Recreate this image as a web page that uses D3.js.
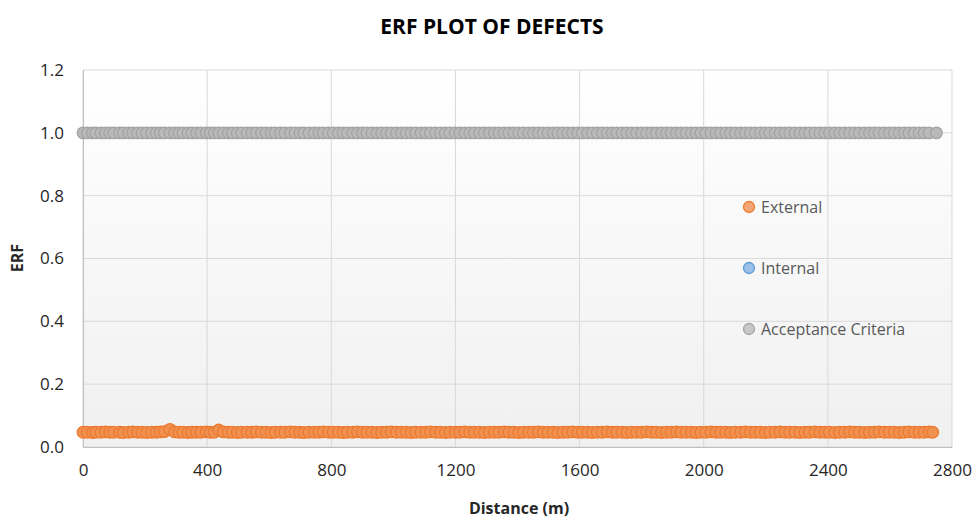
<!DOCTYPE html>
<html>
<head>
<meta charset="utf-8">
<script src="https://cdn.jsdelivr.net/npm/d3@7"></script>
<style>
    body { margin: 0; background: #ffffff; }
</style>
</head>
<body>
<div id="erf_chart"></div>
<script>
// distance of each defect (m)
var distances = [
    0, 14, 30, 41, 58, 72, 86, 99, 118, 130,
    147, 160, 176, 190, 205, 221, 236, 249, 262, 280,
    295, 309, 322, 338, 351, 366, 380, 397, 410, 423,
    437, 452, 468, 481, 497, 511, 529, 544, 558, 575,
    590, 606, 619, 636, 650, 668, 683, 699, 712, 728,
    745, 760, 774, 791, 806, 823, 838, 852, 869, 884,
    900, 915, 931, 947, 962, 978, 993, 1010, 1026, 1041,
    1057, 1072, 1089, 1104, 1119, 1136, 1151, 1167, 1182, 1199,
    1214, 1230, 1246, 1261, 1278, 1293, 1309, 1325, 1340, 1357,
    1372, 1388, 1404, 1419, 1436, 1451, 1467, 1483, 1498, 1515,
    1530, 1546, 1562, 1578, 1594, 1609, 1626, 1641, 1657, 1673,
    1689, 1705, 1720, 1737, 1752, 1768, 1784, 1800, 1816, 1832,
    1847, 1864, 1880, 1895, 1912, 1927, 1943, 1960, 1975, 1991,
    2007, 2023, 2039, 2054, 2071, 2086, 2102, 2119, 2134, 2150,
    2166, 2182, 2198, 2213, 2230, 2246, 2262, 2277, 2294, 2310,
    2326, 2341, 2358, 2374, 2390, 2405, 2422, 2438, 2454, 2470,
    2486, 2501, 2518, 2534, 2550, 2565, 2582, 2598, 2614, 2630,
    2646, 2661, 2678, 2694, 2710, 2726, 2738
];

// ERF of external defects (one per distance)
var externalErf = [
    0.047, 0.047, 0.046, 0.047, 0.047, 0.048, 0.047, 0.047, 0.047, 0.046,
    0.047, 0.048, 0.047, 0.047, 0.046, 0.047, 0.047, 0.048, 0.049, 0.056,
    0.048, 0.047, 0.047, 0.046, 0.047, 0.047, 0.047, 0.048, 0.047, 0.047,
    0.054, 0.048, 0.047, 0.047, 0.046, 0.047, 0.047, 0.047, 0.048, 0.047,
    0.047, 0.046, 0.047, 0.047, 0.047, 0.048, 0.047, 0.047, 0.046, 0.047,
    0.047, 0.047, 0.048, 0.047, 0.047, 0.047, 0.046, 0.047, 0.047, 0.048,
    0.047, 0.047, 0.047, 0.046, 0.047, 0.047, 0.048, 0.047, 0.047, 0.047,
    0.046, 0.047, 0.047, 0.047, 0.048, 0.047, 0.047, 0.046, 0.047, 0.047,
    0.047, 0.048, 0.047, 0.047, 0.047, 0.046, 0.047, 0.047, 0.047, 0.048,
    0.047, 0.047, 0.046, 0.047, 0.047, 0.047, 0.048, 0.047, 0.047, 0.047,
    0.046, 0.047, 0.047, 0.048, 0.047, 0.047, 0.047, 0.046, 0.047, 0.047,
    0.048, 0.047, 0.047, 0.047, 0.046, 0.047, 0.047, 0.047, 0.048, 0.047,
    0.047, 0.046, 0.047, 0.047, 0.048, 0.047, 0.047, 0.047, 0.046, 0.047,
    0.047, 0.048, 0.047, 0.047, 0.047, 0.046, 0.047, 0.047, 0.048, 0.047,
    0.047, 0.047, 0.046, 0.047, 0.047, 0.048, 0.047, 0.047, 0.047, 0.046,
    0.047, 0.047, 0.048, 0.047, 0.047, 0.047, 0.046, 0.047, 0.047, 0.048,
    0.047, 0.047, 0.046, 0.047, 0.047, 0.048, 0.047, 0.047, 0.047, 0.046,
    0.047, 0.048, 0.047, 0.047, 0.047, 0.048, 0.047
];

// internal defects: none in this run
var internalDist = [];
var internalErf = [];

// acceptance criteria (one per distance)
var acceptanceErf = [
    1.0, 1.0, 1.0, 1.0, 1.0, 1.0, 1.0, 1.0, 1.0, 1.0,
    1.0, 1.0, 1.0, 1.0, 1.0, 1.0, 1.0, 1.0, 1.0, 1.0,
    1.0, 1.0, 1.0, 1.0, 1.0, 1.0, 1.0, 1.0, 1.0, 1.0,
    1.0, 1.0, 1.0, 1.0, 1.0, 1.0, 1.0, 1.0, 1.0, 1.0,
    1.0, 1.0, 1.0, 1.0, 1.0, 1.0, 1.0, 1.0, 1.0, 1.0,
    1.0, 1.0, 1.0, 1.0, 1.0, 1.0, 1.0, 1.0, 1.0, 1.0,
    1.0, 1.0, 1.0, 1.0, 1.0, 1.0, 1.0, 1.0, 1.0, 1.0,
    1.0, 1.0, 1.0, 1.0, 1.0, 1.0, 1.0, 1.0, 1.0, 1.0,
    1.0, 1.0, 1.0, 1.0, 1.0, 1.0, 1.0, 1.0, 1.0, 1.0,
    1.0, 1.0, 1.0, 1.0, 1.0, 1.0, 1.0, 1.0, 1.0, 1.0,
    1.0, 1.0, 1.0, 1.0, 1.0, 1.0, 1.0, 1.0, 1.0, 1.0,
    1.0, 1.0, 1.0, 1.0, 1.0, 1.0, 1.0, 1.0, 1.0, 1.0,
    1.0, 1.0, 1.0, 1.0, 1.0, 1.0, 1.0, 1.0, 1.0, 1.0,
    1.0, 1.0, 1.0, 1.0, 1.0, 1.0, 1.0, 1.0, 1.0, 1.0,
    1.0, 1.0, 1.0, 1.0, 1.0, 1.0, 1.0, 1.0, 1.0, 1.0,
    1.0, 1.0, 1.0, 1.0, 1.0, 1.0, 1.0, 1.0, 1.0, 1.0,
    1.0, 1.0, 1.0, 1.0, 1.0, 1.0, 1.0, 1.0, 1.0, 1.0,
    1.0, 1.0, 1.0, 1.0, 1.0, 1.0, 1.0
];
// acceptance line runs a little further than the last defect
var acceptanceDist = distances.slice(0, distances.length - 1).concat([2750]);

var xTicks = [0, 400, 800, 1200, 1600, 2000, 2400, 2800];
var yTicks = [0.0, 0.2, 0.4, 0.6, 0.8, 1.0, 1.2];

var seriesNames = ["External", "Internal", "Acceptance Criteria"];
var seriesFill = ["#f09152", "#8fb8e3", "#b9b9b9"];
var legendFill = ["#f4a676", "#9cc0e8", "#c8c8c8"];
var seriesStroke = ["#ec7a2e", "#5b9bd5", "#a3a3a3"];

function draw_erf_chart() {

    var w = 977;
    var h = 519;
    var font = "'Open Sans', sans-serif";

    // plot area edges
    var pLeft = 83, pRight = 952, pTop = 70, pBottom = 447;

    var xScale = d3.scaleLinear().domain([0, 2800]).range([pLeft, pRight]);
    var yScale = d3.scaleLinear().domain([0, 1.2]).range([pBottom, pTop]);

    var svg = d3.select("#erf_chart").append("svg")
        .attr("width", w)
        .attr("height", h)
        .style("font-family", font);

    // plot area background, white fading to light grey
    var grad = svg.append("defs").append("linearGradient")
        .attr("id", "plotBg")
        .attr("x1", 0).attr("y1", 0).attr("x2", 0).attr("y2", 1);
    grad.append("stop").attr("offset", "0%").attr("stop-color", "#ffffff");
    grad.append("stop").attr("offset", "100%").attr("stop-color", "#f0f0f0");

    svg.append("rect")
        .attr("x", pLeft)
        .attr("y", pTop)
        .attr("width", pRight - pLeft)
        .attr("height", pBottom - pTop)
        .attr("fill", "url(#plotBg)");

    // gridlines
    svg.append("g").selectAll("line")
        .data(yTicks)
        .enter()
        .append("line")
        .attr("x1", pLeft).attr("x2", pRight)
        .attr("y1", function(d) { return yScale(d); })
        .attr("y2", function(d) { return yScale(d); })
        .attr("stroke", "#d9d9d9")
        .attr("stroke-width", 1);

    svg.append("g").selectAll("line")
        .data(xTicks)
        .enter()
        .append("line")
        .attr("x1", function(d) { return xScale(d); })
        .attr("x2", function(d) { return xScale(d); })
        .attr("y1", pTop).attr("y2", pBottom)
        .attr("stroke", "#d9d9d9")
        .attr("stroke-width", 1);

    // axes
    var xAxis = d3.axisBottom(xScale).tickValues(xTicks).tickSize(0).tickPadding(17)
        .tickFormat(d3.format("d"));
    var gx = svg.append("g")
        .attr("transform", "translate(0," + pBottom + ")")
        .call(xAxis);
    gx.select(".domain").attr("stroke", "#bfbfbf");
    gx.selectAll("text").attr("font-size", "17px").attr("fill", "#262626").attr("font-family", font);

    var yAxis = d3.axisLeft(yScale).tickValues(yTicks).tickSize(0).tickPadding(19)
        .tickFormat(d3.format(".1f"));
    var gy = svg.append("g")
        .attr("transform", "translate(" + pLeft + ",0)")
        .call(yAxis);
    gy.select(".domain").attr("stroke", "#bfbfbf");
    gy.selectAll("text").attr("font-size", "17px").attr("fill", "#262626").attr("font-family", font);

    // title and axis titles
    svg.append("text")
        .attr("x", 492)
        .attr("y", 34)
        .attr("text-anchor", "middle")
        .attr("font-size", "21px")
        .attr("font-weight", "bold")
        .attr("fill", "#000000")
        .text("ERF PLOT OF DEFECTS");

    svg.append("text")
        .attr("x", 519)
        .attr("y", 514)
        .attr("text-anchor", "middle")
        .attr("font-size", "16px")
        .attr("font-weight", "bold")
        .attr("fill", "#262626")
        .text("Distance (m)");

    svg.append("text")
        .attr("transform", "translate(23,258) rotate(-90)")
        .attr("text-anchor", "middle")
        .attr("font-size", "16px")
        .attr("font-weight", "bold")
        .attr("fill", "#262626")
        .text("ERF");

    // markers for each series
    function drawSeries(xs, ys, i) {
        var pts = xs.map(function(d, k) { return [d, ys[k]]; });
        svg.append("g").selectAll("circle")
            .data(pts)
            .enter()
            .append("circle")
            .attr("cx", function(d) { return xScale(d[0]); })
            .attr("cy", function(d) { return yScale(d[1]); })
            .attr("r", 5.8)
            .attr("fill", seriesFill[i])
            .attr("stroke", seriesStroke[i])
            .attr("stroke-width", 1.3);
    }

    drawSeries(distances, externalErf, 0);
    drawSeries(internalDist, internalErf, 1);
    drawSeries(acceptanceDist, acceptanceErf, 2);

    // legend inside the plot
    var legend = svg.selectAll(".legend")
        .data(seriesNames)
        .enter()
        .append("g")
        .attr("class", "legend")
        .attr("transform", function(d, i) { return "translate(749," + (207 + i * 61) + ")"; });

    legend.append("circle")
        .attr("r", 5.5)
        .attr("fill", function(d, i) { return legendFill[i]; })
        .attr("stroke", function(d, i) { return seriesStroke[i]; })
        .attr("stroke-width", 1.3);

    legend.append("text")
        .attr("x", 12)
        .attr("dy", "0.35em")
        .attr("font-size", "16px")
        .attr("fill", "#595959")
        .text(function(d) { return d; });
}

draw_erf_chart();
</script>
</body>
</html>
